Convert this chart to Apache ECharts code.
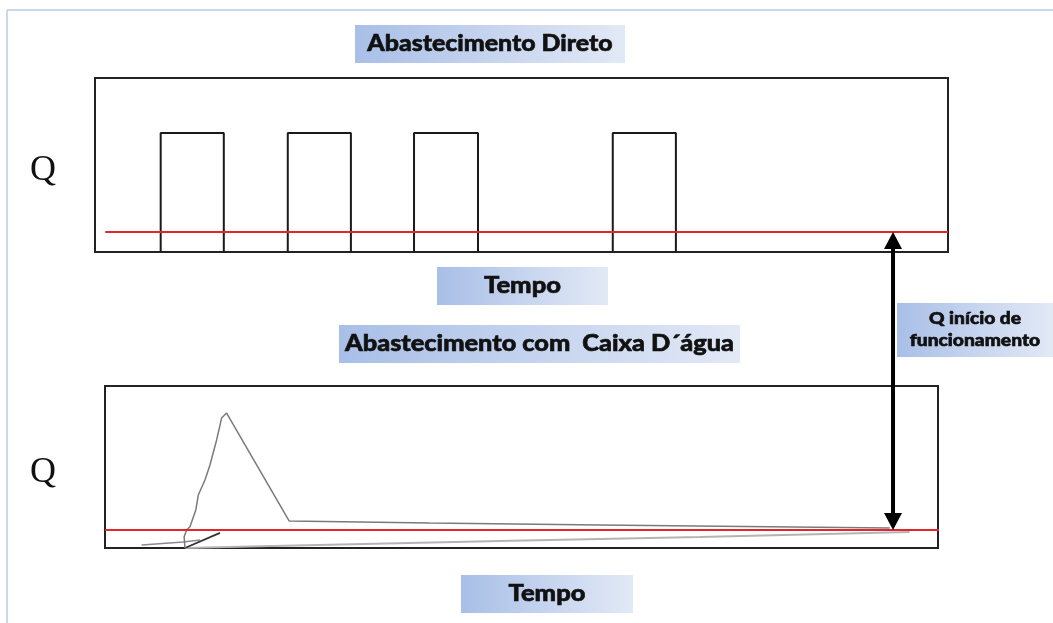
<!DOCTYPE html>
<html><head><meta charset="utf-8">
<script src="https://cdn.jsdelivr.net/npm/echarts@6/dist/echarts.min.js"></script>
<style>html,body{margin:0;padding:0;background:#fff}#c{width:1053px;height:623px}</style>
</head><body><div id="c"></div>
<script>
// ---- Top panel: Abastecimento Direto (time 0-100, Q 0-100) ----
const pulseStart = [7.7, 22.6, 37.4, 60.7];
const pulseEnd   = [15.1, 30.0, 44.9, 68.1];
const pulseQ     = [68.4, 68.4, 68.4, 68.4];
const directStartQ = 11.5;
const directStartTime = [1.2, 100];

// ---- Bottom panel: Abastecimento com Caixa D'água ----
const tankTime = [9.6, 9.5, 9.8, 10.2, 10.9, 11.2, 12.0, 12.6, 13.4, 14.0, 14.6, 22.1, 39.0, 59.4, 94.2];
const tankQ    = [0, 7.0, 11.1, 13.1, 23.5, 32.7, 42.0, 51.2, 66.7, 80.2, 83.3, 16.7, 15.4, 14.2, 12.3];
const fillTime = [9.6, 17.4, 47.4, 71.4, 96.6];
const fillQ    = [0, 0.9, 4.3, 6.8, 9.9];
const leadTime = [4.4, 9.4, 11.4];
const leadQ    = [1.9, 3.7, 4.9];
const valveTime = [9.6, 13.8];
const valveQ    = [0, 9.3];
const tankStartQ = 11.1;
const tankStartTime = [0, 101.3];
const arrowTime = 94.6;

// ---- texts ----
const titleTop = 'Abastecimento Direto';
const titleBottom = 'Abastecimento com  Caixa D\u00B4\u00E1gua';
const axisName = 'Tempo';
const qName = 'Q';
const startLabel = ['Q in\u00EDcio de', 'funcionamento'];

const zip = (xs, ys) => xs.map((x, i) => [x, ys[i]]);
const chart = echarts.init(document.getElementById('c'));

const pulseSeries = pulseStart.map((s, i) => ({
  type: 'line', xAxisIndex: 0, yAxisIndex: 0, symbol: 'none', silent: true, clip: false,
  lineStyle: { color: '#1a1a1a', width: 2 },
  data: [[s, 0], [s, pulseQ[i]], [pulseEnd[i], pulseQ[i]], [pulseEnd[i], 0]]
}));

const ax = (i) => ({ gridIndex: i, type: 'value', min: 0, max: 100, show: false });

chart.setOption({
  animation: false,
  backgroundColor: '#ffffff',
  grid: [
    { left: 95, top: 78, width: 853, height: 174, show: true, borderColor: '#222', borderWidth: 2, backgroundColor: 'rgba(0,0,0,0)' },
    { left: 105, top: 386, width: 833, height: 162, show: true, borderColor: '#222', borderWidth: 2, backgroundColor: 'rgba(0,0,0,0)' }
  ],
  xAxis: [ax(0), ax(1)],
  yAxis: [ax(0), ax(1)],
  series: [
    ...pulseSeries,
    { type: 'line', xAxisIndex: 0, yAxisIndex: 0, symbol: 'none', silent: true, clip: false, z: 3,
      lineStyle: { color: '#e2262b', width: 2 },
      data: directStartTime.map(t => [t, directStartQ]) },
    { type: 'line', xAxisIndex: 1, yAxisIndex: 1, symbol: 'none', silent: true, clip: false,
      lineStyle: { color: '#b4b4b4', width: 2 }, data: zip(fillTime, fillQ) },
    { type: 'line', xAxisIndex: 1, yAxisIndex: 1, symbol: 'none', silent: true, clip: false,
      lineStyle: { color: '#8a8a8a', width: 1.5 }, data: zip(leadTime, leadQ) },
    { type: 'line', xAxisIndex: 1, yAxisIndex: 1, symbol: 'none', silent: true, clip: false,
      lineStyle: { color: '#333', width: 1.8 }, data: zip(valveTime, valveQ) },
    { type: 'line', xAxisIndex: 1, yAxisIndex: 1, symbol: 'none', silent: true, clip: false,
      lineStyle: { color: '#7a7a7a', width: 1.5 }, data: zip(tankTime, tankQ) },
    { type: 'line', xAxisIndex: 1, yAxisIndex: 1, symbol: 'none', silent: true, clip: false, z: 3,
      lineStyle: { color: '#e2262b', width: 2 },
      data: tankStartTime.map(t => [t, tankStartQ]) }
  ]
});

// arrow between the two start lines, positioned from the axes
const pBot = chart.convertToPixel({ gridIndex: 1 }, [arrowTime, tankStartQ]);
const pTop = chart.convertToPixel({ gridIndex: 0 }, [0, directStartQ]);
const axp = pBot[0], yT = pTop[1], yB = pBot[1];
const headH = 17, headW = 9;

const grad = { type: 'linear', x: 0, y: 0, x2: 1, y2: 0,
  colorStops: [{ offset: 0, color: '#a9bfe7' }, { offset: 1, color: '#e2e9f6' }] };
const font = (sz) => '900 ' + sz + 'px Lato, "Open Sans", sans-serif';

function labelBox(x1, y1, x2, y2, lines, sz, sx, lineGap) {
  const els = [{ type: 'rect', shape: { x: x1, y: y1, width: x2 - x1, height: y2 - y1 }, style: { fill: grad }, z: 1 }];
  const cx = (x1 + x2) / 2, cy = (y1 + y2) / 2;
  lines.forEach((t, i) => {
    els.push({ type: 'text', x: cx, y: cy + (i - (lines.length - 1) / 2) * lineGap, scaleX: sx, z: 2,
      style: { text: t, font: font(sz), fill: '#111', stroke: '#111', lineWidth: 0.6, align: 'center', verticalAlign: 'middle' } });
  });
  return els;
}

chart.setOption({
  graphic: [
    // slide frame
    { type: 'line', shape: { x1: 7, y1: 10, x2: 1053, y2: 10 }, style: { stroke: '#c9d8ef', lineWidth: 2 } },
    { type: 'line', shape: { x1: 7, y1: 10, x2: 7, y2: 623 }, style: { stroke: '#c9d8ef', lineWidth: 2 } },
    ...labelBox(355, 25, 625, 63, [titleTop], 22, 1.13, 0),
    ...labelBox(437, 267, 608, 305, [axisName], 22, 1.16, 0),
    ...labelBox(339, 325, 740, 363, [titleBottom], 22, 1.15, 0),
    ...labelBox(461, 575, 633, 613, [axisName], 22, 1.16, 0),
    ...labelBox(897, 303, 1053, 357, startLabel, 16, 1.2, 22),
    { type: 'text', x: 43, y: 171, z: 2, style: { text: qName, font: '36px "Liberation Serif", "DejaVu Serif", serif', fill: '#111', align: 'center', verticalAlign: 'middle' } },
    { type: 'text', x: 43, y: 473, z: 2, style: { text: qName, font: '36px "Liberation Serif", "DejaVu Serif", serif', fill: '#111', align: 'center', verticalAlign: 'middle' } },
    // arrow
    { type: 'line', z: 5, shape: { x1: axp, y1: yT + headH - 2, x2: axp, y2: yB - headH + 2 }, style: { stroke: '#000', lineWidth: 4 } },
    { type: 'polygon', z: 5, shape: { points: [[axp, yT], [axp - headW, yT + headH], [axp + headW, yT + headH]] }, style: { fill: '#000' } },
    { type: 'polygon', z: 5, shape: { points: [[axp, yB], [axp - headW, yB - headH], [axp + headW, yB - headH]] }, style: { fill: '#000' } }
  ]
});
</script>
</body></html>
